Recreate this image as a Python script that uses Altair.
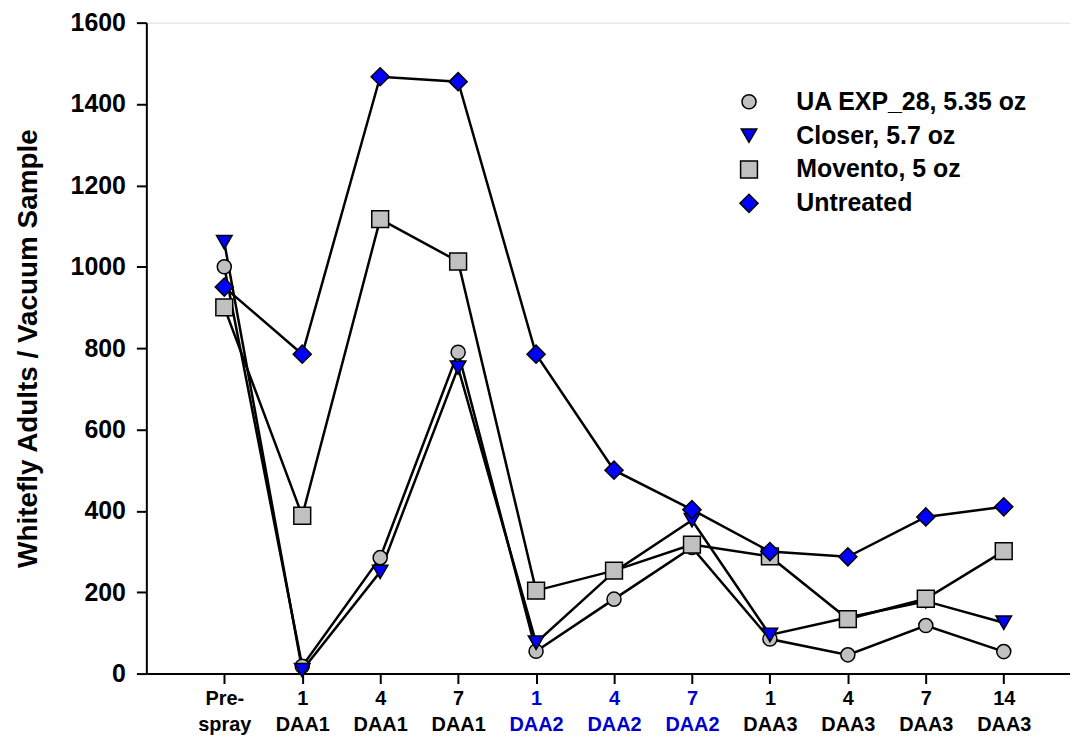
import altair as alt
import pandas as pd

# ---- data ----
tick_labels = ["Pre-|spray", "1|DAA1", "4|DAA1", "7|DAA1", "1|DAA2", "4|DAA2",
               "7|DAA2", "1|DAA3", "4|DAA3", "7|DAA3", "14|DAA3"]
blue_label_positions = [5, 6, 7]          # DAA2 labels are blue
positions = list(range(1, 12))

series_names = ["UA EXP_28, 5.35 oz", "Closer, 5.7 oz", "Movento, 5 oz", "Untreated"]
ua_exp = [1000, 18, 285, 790, 55, 183, 310, 85, 46, 118, 54]
closer = [1060, 8, 250, 752, 76, 250, 377, 95, 138, 178, 125]
movento = [900, 388, 1117, 1013, 204, 253, 317, 288, 134, 184, 301]
untreated = [950, 785, 1467, 1455, 785, 500, 403, 300, 287, 385, 410]

shapes = ["circle", "triangle-down", "square", "diamond"]
fills = ["#C0C0C0", "#0000FF", "#C0C0C0", "#0000FF"]
outline = ["black", "black", "black", "black"]
sizes = [200, 330, 240, 400]

rows = []
for name, vals in zip(series_names, [ua_exp, closer, movento, untreated]):
    for p, v in zip(positions, vals):
        rows.append({"series": name, "pos": p, "value": v})
df = pd.DataFrame(rows)

FONT = "Liberation Sans"

label_array = "[" + ",".join("'" + t + "'" for t in tick_labels) + "]"
label_expr = "split(" + label_array + "[datum.value - 1], '|')"
blue_test = " || ".join("datum.value == %d" % p for p in blue_label_positions)

x_enc = alt.X(
    "pos:Q",
    scale=alt.Scale(domain=[0, 11.85], nice=False, zero=False),
    axis=alt.Axis(
        values=positions, labelExpr=label_expr, title=None, grid=False,
        tickSize=10, tickWidth=2, tickColor="black",
        domainColor="black", domainWidth=2,
        labelFont=FONT, labelFontWeight="bold", labelFontSize=20,
        labelLineHeight=26, labelPadding=5, labelBaseline="top",
        labelColor={"condition": {"test": blue_test, "value": "#0000CC"}, "value": "black"},
    ),
)
y_enc = alt.Y(
    "value:Q",
    scale=alt.Scale(domain=[0, 1600], nice=False),
    axis=alt.Axis(
        values=list(range(0, 1601, 200)), format="d", title="Whitefly Adults / Vacuum Sample",
        grid=False, tickSize=10, tickWidth=2, tickColor="black",
        domainColor="black", domainWidth=2,
        labelFont=FONT, labelFontWeight="bold", labelFontSize=25,
        labelColor="black", labelPadding=11,
        titleFont=FONT, titleFontWeight="bold", titleFontSize=28,
        titleColor="black", titlePadding=28,
    ),
)

lines = alt.Chart(df).mark_line(color="black", strokeWidth=2.5).encode(
    x=x_enc, y=y_enc, detail="series:N",
)

legend = alt.Legend(
    title=None, orient="none", legendX=593, legendY=67,
    labelFont=FONT, labelFontWeight="bold", labelFontSize=25, labelColor="black",
    labelOffset=35, rowPadding=8, labelLimit=0,
    symbolStrokeWidth=1.5, symbolOpacity=1,
)

points = alt.Chart(df).mark_point(filled=True, strokeWidth=1.5, opacity=1).encode(
    x=x_enc, y=y_enc,
    shape=alt.Shape("series:N", scale=alt.Scale(domain=series_names, range=shapes), legend=legend, sort=series_names),
    fill=alt.Fill("series:N", scale=alt.Scale(domain=series_names, range=fills), legend=legend, sort=series_names),
    stroke=alt.Stroke("series:N", scale=alt.Scale(domain=series_names, range=outline), legend=legend, sort=series_names),
    size=alt.Size("series:N", scale=alt.Scale(domain=series_names, range=sizes), legend=legend, sort=series_names),
    order=alt.Order("order:Q"),
).transform_calculate(
    order="indexof(" + "[" + ",".join("'" + s + "'" for s in series_names) + "], datum.series)"
)

chart = (lines + points).properties(
    width=928, height=654,
    autosize=alt.AutoSizeParams(type="none"),
    padding={"left": 139, "top": 13, "right": 0, "bottom": 62},
).configure_view(stroke=None).configure(background="white")

chart.save("out.html", embed_options={"renderer": "svg", "actions": False})
